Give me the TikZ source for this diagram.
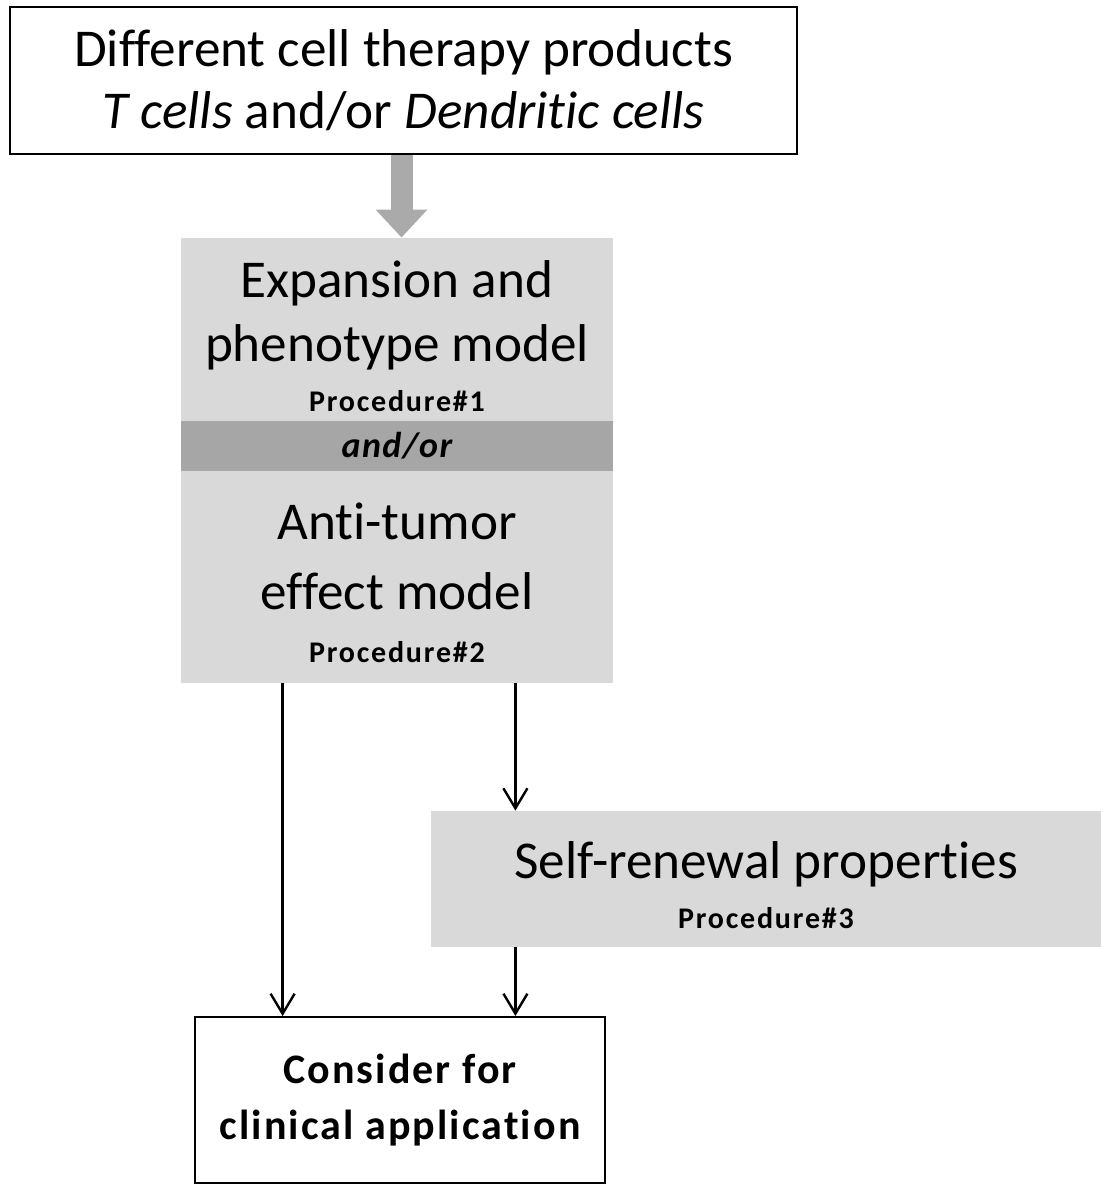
\documentclass[tikz,border=0pt]{standalone}
\usepackage{fontspec}
\setmainfont{Carlito}[Ligatures=NoCommon]
\usepackage{tikz}
\usetikzlibrary{arrows.meta}
\definecolor{boxgray}{RGB}{217,217,217}
\definecolor{bandgray}{RGB}{166,166,166}
\definecolor{fatgray}{RGB}{170,170,170}
\newcommand{\procfont}{\fontsize{15}{18}\selectfont\bfseries\addfontfeature{LetterSpace=6}}

\begin{document}
\begin{tikzpicture}[x=0.5pt, y=-0.5pt,
  every node/.style={align=center, inner sep=0pt},
  plainbox/.style={draw, line width=1pt, fill=white},
  graybox/.style={fill=boxgray},
  bigtext/.style={font=\fontsize{26.6}{32}\selectfont},
  arr/.style={-{Straight Barb[length=10pt, width=12pt, line width=1.2pt]}, line width=1.25pt}]
\useasboundingbox (0,0) rectangle (1101,1187);
\node[plainbox, font=\fontsize{26.6}{31}\selectfont, minimum width=393.5pt, minimum height=73.5pt] (prod) at (403.5,80.5)
  {Different cell therapy products\\\textit{T cells} and/or \textit{Dendritic cells}};
\node[graybox, bigtext, minimum width=216pt, minimum height=91.5pt] (exp) at (397,329.5)
  {\rule{0pt}{25.6pt}Expansion and\\phenotype model\\[-7pt]{\procfont Procedure\#1}};
\node[fill=bandgray, font=\fontsize{18}{20}\selectfont\bfseries\itshape\addfontfeature{LetterSpace=4}, minimum width=216pt, minimum height=25pt] (andor) at (397,446) {and/or};
\node[graybox, bigtext, minimum width=216pt, minimum height=106pt] (anti) at (397,577)
  {\rule{0pt}{24pt}Anti-tumor\\[3pt]effect model\\[-5.5pt]{\procfont Procedure\#2}};
\node[graybox, bigtext, minimum width=335pt, minimum height=68pt] (self) at (766,879)
  {\rule{0pt}{24.6pt}Self-renewal properties\\[-7pt]{\procfont Procedure\#3}};
\node[plainbox, font=\fontsize{21}{28}\selectfont\bfseries\addfontfeature{LetterSpace=5}, minimum width=205pt, minimum height=83pt] (cons) at (400,1100)
  {Consider for\\clinical application};
% fat gray arrow
\coordinate (fa) at ([xshift=-1pt]prod.south);
\draw[fatgray, line width=11pt, -{Triangle[length=14pt, width=25pt]}] (fa) -- (fa |- exp.north);
% thin arrows
\coordinate (la) at ([xshift=51pt]anti.south west);
\coordinate (ra) at ([xshift=-49pt]anti.south east);
\draw[arr] (la) -- (la |- cons.north);
\draw[arr] (ra) -- (ra |- self.north);
\draw[arr] (ra |- self.south) -- (ra |- cons.north);
\end{tikzpicture}
\end{document}
